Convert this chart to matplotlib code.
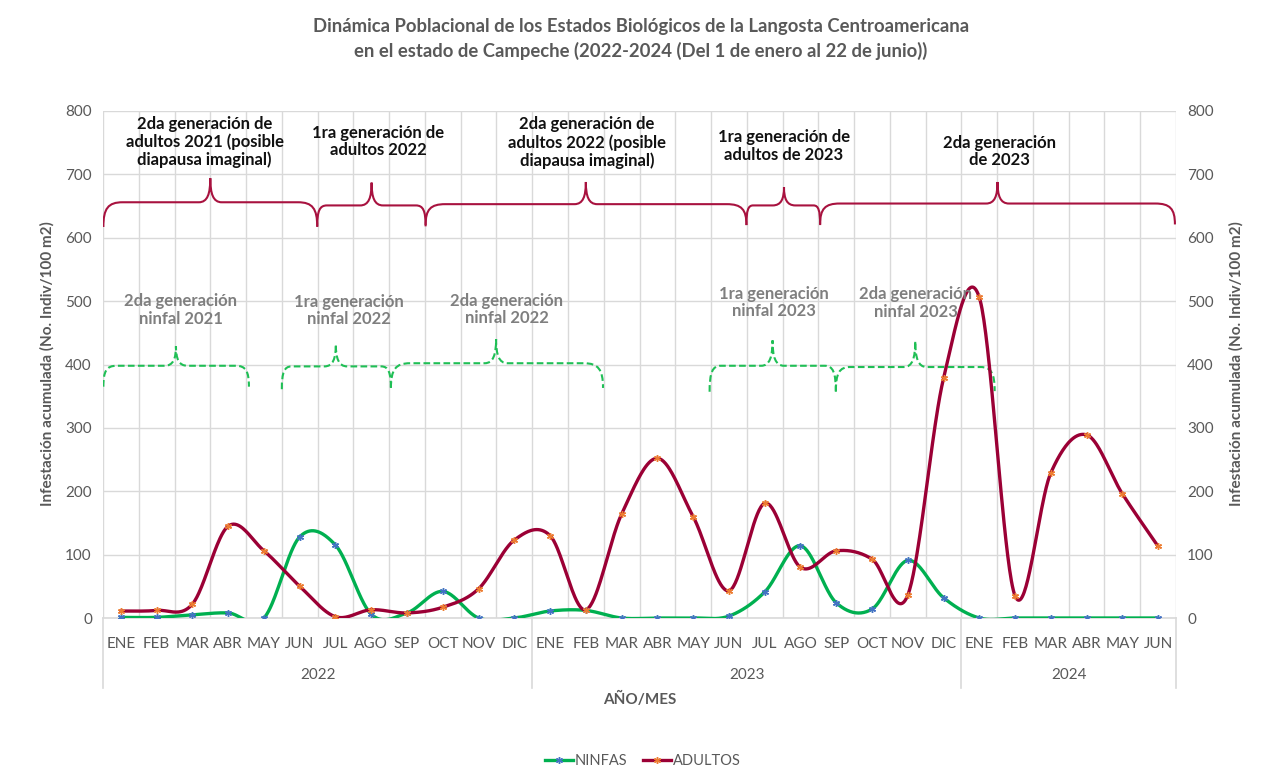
import numpy as np
import matplotlib
matplotlib.use("Agg")
import matplotlib.pyplot as plt
from matplotlib.path import Path
from matplotlib.patches import PathPatch
from matplotlib.lines import Line2D
import matplotlib.transforms as mtransforms

plt.rcParams['font.family'] = ['Lato', 'DejaVu Sans']

# ---------------- data ----------------
months_2022 = ["ENE", "FEB", "MAR", "ABR", "MAY", "JUN", "JUL", "AGO", "SEP", "OCT", "NOV", "DIC"]
months_2023 = ["ENE", "FEB", "MAR", "ABR", "MAY", "JUN", "JUL", "AGO", "SEP", "OCT", "NOV", "DIC"]
months_2024 = ["ENE", "FEB", "MAR", "ABR", "MAY", "JUN"]
years = ["2022", "2023", "2024"]

ninfas = [1, 1, 5, 8, 0, 128, 115, 6, 8, 42, 0, 0,
          11, 12, 0, 0, 0, 3, 41, 114, 24, 14, 91, 32,
          0, 0, 0, 0, 0, 0]
adultos = [11, 12, 22, 145, 106, 50, 2, 13, 8, 17, 46, 123,
           130, 13, 164, 252, 160, 43, 181, 80, 106, 93, 36, 378,
           506, 35, 229, 289, 196, 113]

# brace annotations: (start, end, tip, flat level, tip level, end level)
adult_braces = [(-0.49, 5.49, 2.50, 656, 694, 617),
                (5.49, 8.52, 7.01, 651, 687, 618),
                (8.52, 17.49, 13.00, 653, 688, 620),
                (17.49, 19.55, 18.54, 651, 680, 620),
                (19.55, 29.47, 24.51, 654, 688, 621)]
adult_labels = ["2da generación de\nadultos 2021 (posible\ndiapausa imaginal)",
                "1ra generación de\nadultos 2022",
                "2da generación de\nadultos 2022 (posible\ndiapausa imaginal)",
                "1ra generación de\nadultos de 2023",
                "2da generación\nde 2023"]
adult_label_pos = [(2.34, 751), (7.19, 752), (13.03, 750), (18.54, 745), (24.57, 736)]

nymph_braces = [(-0.49, 3.58, 1.54, 398, 429, 365),
                (4.50, 7.55, 6.01, 397, 432, 361),
                (7.55, 13.48, 10.49, 402, 440, 363),
                (16.46, 19.99, 18.22, 398, 438, 357),
                (19.99, 24.43, 22.21, 396, 437, 358)]
nymph_labels = ["2da generación\nninfal 2021", "1ra generación\nninfal 2022",
                "2da generación\nninfal 2022", "1ra generación\nninfal 2023",
                "2da generación\nninfal 2023"]
nymph_label_pos = [(1.68, 486), (6.38, 485), (10.79, 487), (18.26, 498), (22.23, 497)]

title = ("Dinámica Poblacional de los Estados Biológicos de la Langosta Centroamericana\n"
         "en el estado de Campeche (2022-2024 (Del 1 de enero al 22 de junio))")
ylabel = "Infestación acumulada (No. Indiv/100 m2)"

# ---------------- helpers ----------------
def excel_smooth(x, y, n=40):
    x = np.asarray(x, float)
    y = np.asarray(y, float)
    P = np.column_stack([x, y])
    Pp = np.vstack([P[0], P, P[-1]])
    out = []
    t = np.linspace(0, 1, n)[:, None]
    for i in range(len(P) - 1):
        p0, p1, p2, p3 = Pp[i], Pp[i + 1], Pp[i + 2], Pp[i + 3]
        c1 = p1 + (p2 - p0) / 6.0
        c2 = p2 - (p3 - p1) / 6.0
        B = (1 - t) ** 3 * p1 + 3 * (1 - t) ** 2 * t * c1 + 3 * (1 - t) * t ** 2 * c2 + t ** 3 * p2
        out.append(B if i == 0 else B[1:])
    B = np.vstack(out)
    return B[:, 0], B[:, 1]


def brace(ax, x0, x1, xt, yf, ytip, yend, color, ls, lw):
    width = x1 - x0
    r = min(0.55, 0.09 * width)
    rt = 0.32
    verts = [(x0, yend),
             (x0, yend + 0.75 * (yf - yend)), (x0 + 0.25 * r, yf), (x0 + r, yf),
             (xt - rt, yf),
             (xt - 0.25 * rt, yf), (xt, yf + 0.35 * (ytip - yf)), (xt, ytip),
             (xt, yf + 0.35 * (ytip - yf)), (xt + 0.25 * rt, yf), (xt + rt, yf),
             (x1 - r, yf),
             (x1 - 0.25 * r, yf), (x1, yend + 0.75 * (yf - yend)), (x1, yend)]
    codes = [Path.MOVETO,
             Path.CURVE4, Path.CURVE4, Path.CURVE4,
             Path.LINETO,
             Path.CURVE4, Path.CURVE4, Path.CURVE4,
             Path.CURVE4, Path.CURVE4, Path.CURVE4,
             Path.LINETO,
             Path.CURVE4, Path.CURVE4, Path.CURVE4]
    patch = PathPatch(Path(verts, codes), facecolor='none', edgecolor=color,
                      linestyle=ls, linewidth=lw, capstyle='butt', zorder=3)
    ax.add_patch(patch)


# ---------------- figure ----------------
fig = plt.figure(figsize=(12.83, 7.80), dpi=100)
ax = fig.add_axes([103 / 1283, 1 - 618 / 780, (1176 - 103) / 1283, (618 - 111) / 780])

months = months_2022 + months_2023 + months_2024
xs = np.arange(len(months))
gray = '#595959'
grid = '#d9d9d9'

ax.set_xlim(-0.5, len(months) - 0.5)
ax.set_ylim(0, 800)
ax.set_yticks(np.arange(0, 801, 100))
ax.set_xticks(xs)
ax.set_xticklabels(months)
ax.tick_params(axis='x', length=0, pad=14, labelsize=11, labelcolor=gray)
ax.tick_params(axis='y', length=0, pad=8, labelsize=11, labelcolor=gray)
ax.set_xticks(np.arange(-0.5, len(months), 1), minor=True)
ax.tick_params(axis='x', which='minor', length=0)
ax.grid(True, which='minor', axis='x', color=grid, linewidth=1)
ax.grid(True, which='major', axis='y', color=grid, linewidth=1)
for s in ['top', 'right', 'left']:
    ax.spines[s].set_visible(False)
ax.spines['bottom'].set_color(grid)
ax.spines['bottom'].set_linewidth(1.2)
ax.set_axisbelow(True)

green = '#00B050'
red = '#9B0035'
mk = (6, 2, 0)
sx, sy = excel_smooth(xs, ninfas)
ax.plot(sx, sy, color=green, lw=2.4, solid_capstyle='round', zorder=4)
ax.plot(xs, ninfas, ls='none', marker=mk, ms=5, mew=1.0, color='#4472C4', zorder=5)
sx, sy = excel_smooth(xs, adultos)
ax.plot(sx, sy, color=red, lw=2.4, solid_capstyle='round', zorder=4)
ax.plot(xs, adultos, ls='none', marker=mk, ms=5, mew=1.0, color='#ED7D31', zorder=5)

# secondary axis
ax2 = ax.twinx()
ax2.set_ylim(0, 800)
ax2.set_yticks(np.arange(0, 801, 100))
ax2.tick_params(axis='y', length=0, pad=8, labelsize=11, labelcolor=gray)
for s in ax2.spines.values():
    s.set_visible(False)

# braces and labels
for (x0, x1, xt, yf, yt, ye) in adult_braces:
    brace(ax, x0, x1, xt, yf, yt, ye, '#A8123F', '-', 1.5)
for (x0, x1, xt, yf, yt, ye) in nymph_braces:
    brace(ax, x0, x1, xt, yf, yt, ye, '#1FBF55', (0, (3.2, 1.6)), 1.5)
for lab, (x, y) in zip(adult_labels, adult_label_pos):
    ax.text(x, y, lab, ha='center', va='center', fontsize=12, fontweight='bold',
            color='#111111', linespacing=1.12, zorder=6)
for lab, (x, y) in zip(nymph_labels, nymph_label_pos):
    ax.text(x, y, lab, ha='center', va='center', fontsize=12, fontweight='bold',
            color='#7f7f7f', linespacing=1.12, zorder=6)

# multi-level category axis
trans = mtransforms.blended_transform_factory(ax.transData, ax.transAxes)
groups = [months_2022, months_2023, months_2024]
start = 0
bounds = [-0.5]
for yr, g in zip(years, groups):
    center = start + (len(g) - 1) / 2
    ax.text(center, -0.112, yr, transform=trans, ha='center', va='center',
            fontsize=11, color=gray)
    start += len(g)
    bounds.append(start - 0.5)
for b in bounds:
    ax.add_line(Line2D([b, b], [0, -0.138], transform=trans, color=grid, lw=1.2, clip_on=False))

ax.text(0.5, -0.160, "AÑO/MES", transform=ax.transAxes, ha='center', va='center',
        fontsize=11, fontweight='bold', color=gray)

fig.text(47 / 1283, 1 - 364 / 780, ylabel, rotation=90, ha='center', va='center',
         fontsize=11, fontweight='bold', color=gray)
fig.text(1236 / 1283, 1 - 364 / 780, ylabel, rotation=90, ha='center', va='center',
         fontsize=11, fontweight='bold', color=gray)

fig.text(641 / 1283, 1 - 39 / 780, title, ha='center', va='center', fontsize=13.3,
         fontweight='bold', color=gray, linespacing=1.4)

handles = [Line2D([], [], color=green, lw=2.4, marker=mk, ms=5, mew=1.0,
                  markeredgecolor='#4472C4', markerfacecolor='#4472C4'),
           Line2D([], [], color=red, lw=2.4, marker=mk, ms=5, mew=1.0,
                  markeredgecolor='#ED7D31', markerfacecolor='#ED7D31')]
leg = fig.legend(handles, ["NINFAS", "ADULTOS"], loc='center', bbox_to_anchor=(643 / 1283, 1 - 761 / 780),
                 ncol=2, frameon=False, fontsize=10.5, handlelength=1.9, handletextpad=0.15,
                 columnspacing=1.1)
for t in leg.get_texts():
    t.set_color(gray)

fig.savefig("out.png", dpi=100)
